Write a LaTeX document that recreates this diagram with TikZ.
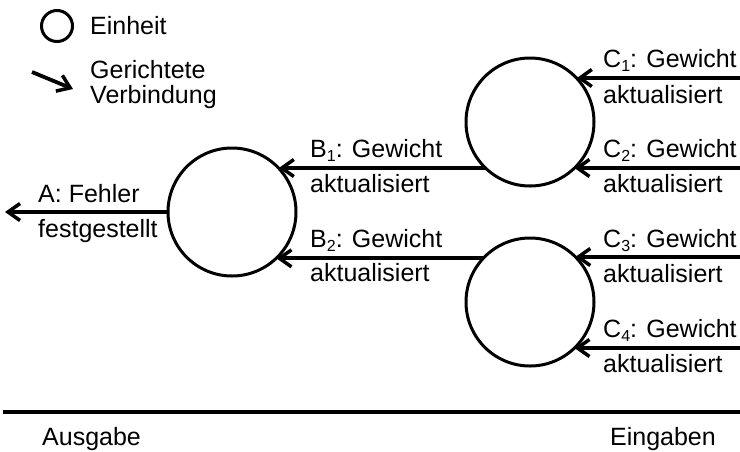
\documentclass[tikz,border=0pt]{standalone}
\usepackage{fontspec}
\setmainfont{Liberation Sans}
\usetikzlibrary{arrows.meta}
\newcommand{\sbn}[1]{\raisebox{-4pt}{\fontsize{16}{16}\selectfont #1}}
\begin{document}
\begin{tikzpicture}[x=1pt,y=-1pt,
  unit/.style={circle,draw,line width=3pt,minimum size=128pt,inner sep=0pt,outer sep=0pt},
  arr/.style={line width=3.8pt,-{Straight Barb[length=12pt,width=17pt,line width=3.5pt]}},
  lbl/.style={anchor=base west,inner sep=0pt,font=\fontsize{25}{29}\selectfont}]
\useasboundingbox (0,0) rectangle (740,451);
% legend
\node[circle,draw,line width=3pt,minimum size=31pt,inner sep=0pt] (leg) at (57,26) {};
\node[lbl] (legt) at (90,34) {Einheit};
\coordinate (la1) at (32,72);
\coordinate (la2) at (73,89);
\draw[arr] (la1) -- (la2);
\node[lbl] (legc1) at (90,78) {Gerichtete};
\node[lbl] (legc2) at (90,103) {Verbindung};
% units
\node[unit] (lc) at (232,212) {};
\node[unit] (u1) at (530,122) {};
\node[unit] (u2) at (530,302) {};
% output
\coordinate (aout) at (5,212);
\draw[arr] (lc.west) -- (aout);
\node[lbl] (a1) at (38,202) {A: Fehler};
\node[lbl] (a2) at (38,237) {festgestellt};
% B
\draw[arr] (u1.226) -- (lc.43 |- u1.226);
\draw[arr] (u2.137) -- (lc.-46 |- u2.137);
\node[lbl] (b1) at (310,157) {B\sbn{1}: Gewicht};
\node[lbl] (b1b) at (310,192) {aktualisiert};
\node[lbl] (b2) at (310,247) {B\sbn{2}: Gewicht};
\node[lbl] (b2b) at (310,281) {aktualisiert};
% C
\coordinate (c1in) at (740,78);
\coordinate (c2in) at (740,168);
\coordinate (c3in) at (740,257);
\coordinate (c4in) at (740,348);
\draw[arr] (c1in) -- (u1.43 |- c1in);
\draw[arr] (c2in) -- (u1.-46 |- c2in);
\draw[arr] (c3in) -- (u2.45 |- c3in);
\draw[arr] (c4in) -- (u2.-46 |- c4in);
\node[lbl] (c1) at (603,67) {C\sbn{1}: Gewicht};
\node[lbl] (c1b) at (603,103) {aktualisiert};
\node[lbl] (c2) at (603,157) {C\sbn{2}: Gewicht};
\node[lbl] (c2b) at (603,192) {aktualisiert};
\node[lbl] (c3) at (603,247) {C\sbn{3}: Gewicht};
\node[lbl] (c3b) at (603,282) {aktualisiert};
\node[lbl] (c4) at (603,337) {C\sbn{4}: Gewicht};
\node[lbl] (c4b) at (603,372) {aktualisiert};
% bottom
\coordinate (bl) at (3,412);
\coordinate (br) at (740,412);
\draw[line width=4pt] (bl) -- (br);
\node[lbl] (aus) at (42,445) {Ausgabe};
\node[lbl,anchor=base east] (ein) at (716,445) {Eingaben};
\end{tikzpicture}
\end{document}
